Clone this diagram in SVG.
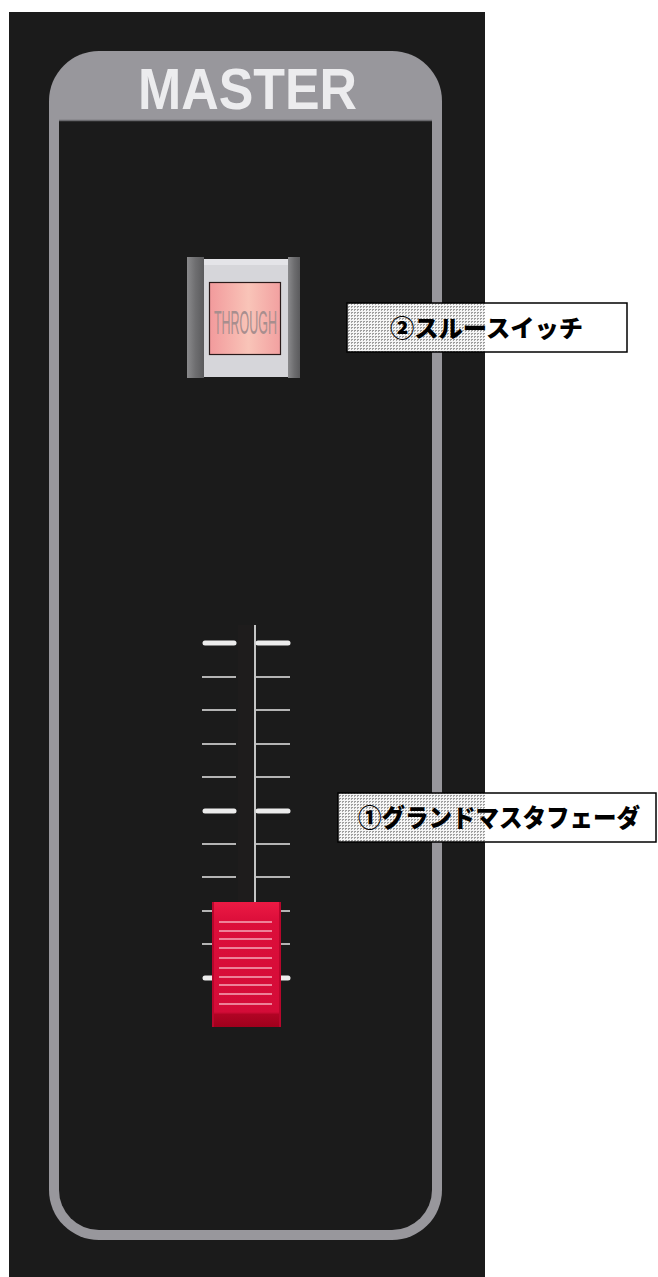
<svg xmlns="http://www.w3.org/2000/svg" width="658" height="1277" viewBox="0 0 658 1277">
<defs>
<style>
.tick{stroke:#b4b4b4;stroke-width:2}
.tickb{stroke:#ececec;stroke-width:5;stroke-linecap:round}
.fl{stroke:#f4a8b8;stroke-width:1.6}
.lbl{font-family:"Noto Sans CJK JP","Noto Sans",sans-serif;font-weight:900;fill:#000}
.box{fill:none;stroke:#000;stroke-width:1.5}
</style>
<pattern id="ht" width="3" height="3" patternUnits="userSpaceOnUse">
<rect width="3" height="3" fill="#f4f4f4"/>
<rect width="2" height="1" fill="#8a8a8a"/>
<rect width="1" height="2" fill="#9a9a9a"/>
</pattern>
<linearGradient id="pink" x1="0" y1="0" x2="1" y2="0">
<stop offset="0" stop-color="#f29a9c"/>
<stop offset="0.55" stop-color="#f9c4b8"/>
<stop offset="1" stop-color="#f2a0a0"/>
</linearGradient>
<linearGradient id="bar" x1="0" y1="0" x2="1" y2="0">
<stop offset="0" stop-color="#8a8a8c"/>
<stop offset="0.5" stop-color="#6e6e70"/>
<stop offset="1" stop-color="#5a5a5c"/>
</linearGradient>
<linearGradient id="knob" x1="0" y1="0" x2="0" y2="1">
<stop offset="0" stop-color="#ec1a44"/>
<stop offset="0.15" stop-color="#dc0e3a"/>
<stop offset="0.88" stop-color="#d40c38"/>
<stop offset="0.9" stop-color="#b00424"/>
<stop offset="1" stop-color="#a0001c"/>
</linearGradient>
</defs>
<rect x="0" y="0" width="658" height="1277" fill="#ffffff"/>
<rect x="9" y="12" width="476" height="1265" fill="#1b1b1b"/>
<g id="panel">
<rect x="49" y="51" width="393" height="1189" rx="50" ry="50" fill="#98979c"/>
<path d="M59 121 H432 V1190 A40 40 0 0 1 392 1230 H99 A40 40 0 0 1 59 1190 Z" fill="#1b1b1b"/>
<line x1="59" y1="120.5" x2="432" y2="120.5" stroke="#6a6a6e" stroke-width="1.5"/>
</g>
<g id="master-label">
<text x="138" y="109" textLength="219" lengthAdjust="spacingAndGlyphs" font-family="Liberation Sans, Arial, sans-serif" font-weight="bold" font-size="57" fill="#ececee">MASTER</text>
</g>
<g id="through-switch">
<rect x="187" y="257" width="17" height="121" fill="url(#bar)"/>
<rect x="288" y="257" width="12" height="121" fill="url(#bar)"/>
<rect x="204" y="259" width="84" height="118" fill="#d6d6da"/>
<rect x="204" y="259" width="84" height="6" fill="#e4e4e8"/>
<rect x="209.5" y="282.5" width="71" height="72" fill="url(#pink)" stroke="#2a1a1a" stroke-width="1.2"/>
<text x="214" y="334" textLength="63" lengthAdjust="spacingAndGlyphs" font-family="Liberation Sans, Arial, sans-serif" font-size="33" fill="#a88e8e">THROUGH</text>
</g>
<g id="fader">
<rect x="238" y="625" width="15" height="280" fill="#1e1c1c"/>
<line x1="255" y1="625" x2="255" y2="903" stroke="#c4c4c4" stroke-width="2"/>
<g>
<line class="tickb" x1="205" y1="643" x2="234" y2="643"/>
<line class="tickb" x1="258" y1="643" x2="288" y2="643"/>
<line class="tickb" x1="205" y1="811" x2="234" y2="811"/>
<line class="tickb" x1="258" y1="811" x2="288" y2="811"/>
<line class="tickb" x1="205" y1="978" x2="234" y2="978"/>
<line class="tickb" x1="258" y1="978" x2="288" y2="978"/>
<line class="tick" x1="202" y1="677" x2="236" y2="677"/>
<line class="tick" x1="256" y1="677" x2="290" y2="677"/>
<line class="tick" x1="202" y1="710" x2="236" y2="710"/>
<line class="tick" x1="256" y1="710" x2="290" y2="710"/>
<line class="tick" x1="202" y1="744" x2="236" y2="744"/>
<line class="tick" x1="256" y1="744" x2="290" y2="744"/>
<line class="tick" x1="202" y1="777" x2="236" y2="777"/>
<line class="tick" x1="256" y1="777" x2="290" y2="777"/>
<line class="tick" x1="202" y1="844" x2="236" y2="844"/>
<line class="tick" x1="256" y1="844" x2="290" y2="844"/>
<line class="tick" x1="202" y1="877" x2="236" y2="877"/>
<line class="tick" x1="256" y1="877" x2="290" y2="877"/>
<line class="tick" x1="202" y1="911" x2="236" y2="911"/>
<line class="tick" x1="256" y1="911" x2="290" y2="911"/>
<line class="tick" x1="202" y1="944" x2="236" y2="944"/>
<line class="tick" x1="256" y1="944" x2="290" y2="944"/>
</g>
<rect x="212" y="902" width="69" height="125" fill="url(#knob)"/>
<rect x="212" y="902" width="2" height="125" fill="#b8062c"/>
<rect x="279" y="902" width="2" height="125" fill="#b8062c"/>
<line class="fl" x1="219" y1="922" x2="272" y2="922"/>
<line class="fl" x1="219" y1="931" x2="272" y2="931"/>
<line class="fl" x1="219" y1="939" x2="272" y2="939"/>
<line class="fl" x1="219" y1="948" x2="272" y2="948"/>
<line class="fl" x1="219" y1="958" x2="272" y2="958"/>
<line class="fl" x1="219" y1="968" x2="272" y2="968"/>
<line class="fl" x1="219" y1="977" x2="272" y2="977"/>
<line class="fl" x1="219" y1="985" x2="272" y2="985"/>
<line class="fl" x1="219" y1="994" x2="272" y2="994"/>
<line class="fl" x1="219" y1="1004" x2="272" y2="1004"/>
</g>
<g id="label-2">
<rect x="347" y="303" width="280" height="49" fill="#ffffff"/>
<rect x="347" y="303" width="138" height="49" fill="url(#ht)" opacity="0.9"/>
<rect class="box" x="347" y="303" width="280" height="49"/>
<text class="lbl" x="390" y="337" font-size="24" textLength="193" lengthAdjust="spacingAndGlyphs">②スルースイッチ</text>
</g>
<g id="label-1">
<rect x="338" y="793" width="318" height="49" fill="#ffffff"/>
<rect x="338" y="793" width="147" height="49" fill="url(#ht)" opacity="0.9"/>
<rect class="box" x="338" y="793" width="318" height="49"/>
<text class="lbl" x="358" y="827" font-size="25" textLength="282" lengthAdjust="spacingAndGlyphs">①グランドマスタフェーダ</text>
</g>
</svg>
